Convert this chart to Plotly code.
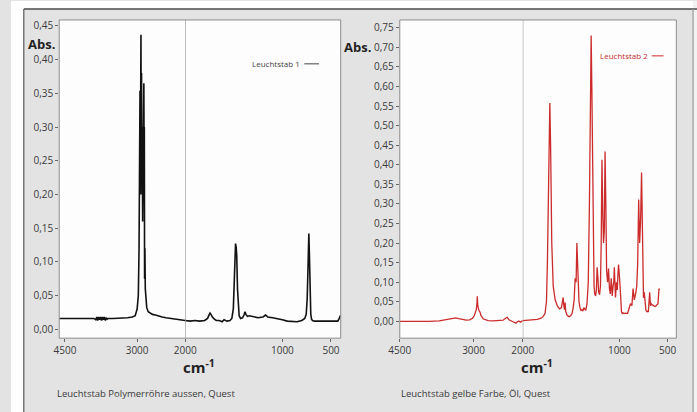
import plotly.graph_objects as go

# ---------------- data ----------------
# Spectrum 1: Leuchtstab Polymerröhre aussen (black)
wn1 = [4620, 4500, 4400, 4300, 4200, 4100, 4000, 3900, 3860, 3840, 3820, 3800, 3780, 3760, 3740,
       3720, 3700, 3680, 3660, 3640, 3620, 3600, 3500, 3400, 3300, 3200, 3100, 3040, 3000, 2975,
       2960, 2950, 2940, 2935, 2928, 2920, 2914, 2908, 2900, 2892, 2885, 2878, 2872, 2866, 2860,
       2855, 2850, 2845, 2838, 2830, 2815, 2800, 2770, 2730, 2680, 2620, 2550, 2480, 2400, 2300,
       2200, 2100, 2000,
       1950, 1900, 1850, 1800, 1770, 1755, 1745, 1735, 1720, 1700, 1680, 1650, 1620, 1600, 1570,
       1540, 1520, 1505, 1495, 1488, 1482, 1476, 1470, 1462, 1455, 1445, 1430, 1410, 1395, 1385,
       1375, 1360, 1340, 1300, 1250, 1200, 1175, 1165, 1150, 1100, 1050, 1000, 950, 900, 850,
       800, 770, 755, 745, 735, 728, 722, 716, 708, 700, 690, 670, 640, 600, 550, 500, 460,
       430, 415, 400]
ab1 = [0.016, 0.016, 0.017, 0.017, 0.016, 0.016, 0.017, 0.016, 0.014, 0.018, 0.013, 0.018, 0.014, 0.018, 0.013,
       0.018, 0.014, 0.018, 0.013, 0.017, 0.015, 0.016, 0.016, 0.016, 0.016, 0.017, 0.018, 0.020, 0.030, 0.050,
       0.120, 0.200, 0.354, 0.200, 0.300, 0.437, 0.250, 0.380, 0.200, 0.300, 0.160, 0.250, 0.180, 0.300, 0.365,
       0.250, 0.300, 0.075, 0.120, 0.060, 0.040, 0.032, 0.026, 0.024, 0.022, 0.021, 0.019, 0.018, 0.017, 0.016,
       0.015, 0.014, 0.013,
       0.012, 0.013, 0.012, 0.013, 0.016, 0.021, 0.024, 0.022, 0.018, 0.015, 0.013, 0.013, 0.011, 0.014, 0.012,
       0.013, 0.016, 0.030, 0.070, 0.110, 0.127, 0.122, 0.110, 0.060, 0.030, 0.020, 0.016, 0.017, 0.021, 0.026,
       0.022, 0.019, 0.020, 0.019, 0.017, 0.018, 0.021, 0.020, 0.018, 0.017, 0.016, 0.014, 0.012, 0.012, 0.011,
       0.013, 0.016, 0.022, 0.045, 0.100, 0.142, 0.110, 0.050, 0.022, 0.015, 0.013, 0.012, 0.012, 0.012, 0.011, 0.012, 0.011,
       0.012, 0.016, 0.021]

# Spectrum 2: Leuchtstab gelbe Farbe, Öl (red)
wn2 = [4500, 4300, 4100, 3900, 3700, 3600, 3500, 3420, 3360, 3300, 3220, 3150, 3080, 3020, 2985,
       2960, 2945, 2932, 2925, 2915, 2905, 2890, 2870, 2850, 2800, 2700, 2600, 2500, 2400, 2350,
       2320, 2280, 2220, 2170, 2140, 2110, 2080, 2050, 2000,
       1950, 1900, 1850, 1810, 1790, 1770, 1755, 1745, 1735, 1728, 1720, 1712, 1700, 1685, 1665,
       1640, 1620, 1600, 1590, 1582, 1575, 1568, 1562, 1555, 1540, 1520, 1505, 1490, 1478, 1468,
       1458, 1448, 1440, 1430, 1418, 1408, 1398, 1388, 1378, 1368, 1358, 1348, 1335, 1322, 1310,
       1300, 1292, 1285, 1277, 1270, 1262, 1255, 1246, 1238, 1230, 1222, 1215, 1205, 1196, 1188,
       1180, 1172, 1164, 1156, 1148, 1140, 1132, 1122, 1112, 1103, 1094, 1084, 1074, 1065, 1058,
       1052, 1046, 1040, 1030, 1021, 1015, 1008, 995, 985, 978, 970, 962, 950, 935, 915,
       900, 885, 870, 858, 845, 835, 828, 820, 810, 800, 790, 780, 770, 762, 756,
       750, 742, 734, 725, 716, 708, 700, 693, 686, 678, 670, 660, 650, 640, 630,
       620, 610, 600, 590, 580, 570, 563, 555, 545, 535, 520, 500, 485, 470, 455,
       440, 430, 420, 410]
ab2 = [0.000, 0.000, -0.001, 0.000, 0.001, 0.003, 0.006, 0.008, 0.009, 0.007, 0.004, 0.003, 0.004, 0.008, 0.015,
       0.022, 0.030, 0.045, 0.064, 0.040, 0.028, 0.027, 0.024, 0.015, 0.006, 0.002, 0.001, 0.002, 0.003, 0.008,
       0.010, 0.004, 0.000, -0.003, -0.005, -0.001, 0.001, -0.002, 0.002,
       0.003, 0.004, 0.005, 0.008, 0.012, 0.020, 0.050, 0.150, 0.350, 0.520, 0.558, 0.450, 0.200, 0.090, 0.055,
       0.038, 0.032, 0.035, 0.045, 0.061, 0.040, 0.030, 0.048, 0.025, 0.015, 0.012, 0.014, 0.020, 0.035, 0.055,
       0.110, 0.100, 0.200, 0.120, 0.050, 0.035, 0.028, 0.030, 0.026, 0.035, 0.030, 0.028, 0.045, 0.100, 0.300,
       0.580, 0.730, 0.600, 0.350, 0.150, 0.090, 0.070, 0.065, 0.080, 0.138, 0.110, 0.075, 0.068, 0.090, 0.200,
       0.413, 0.280, 0.200, 0.230, 0.434, 0.300, 0.130, 0.100, 0.135, 0.085, 0.070, 0.110, 0.065, 0.090, 0.100,
       0.138, 0.100, 0.061, 0.100, 0.080, 0.120, 0.145, 0.100, 0.045, 0.025, 0.020, 0.022, 0.020, 0.021, 0.020,
       0.030, 0.045, 0.040, 0.084, 0.055, 0.065, 0.075, 0.090, 0.150, 0.311, 0.200, 0.260, 0.380, 0.250, 0.090,
       0.060, 0.074, 0.045, 0.028, 0.025, 0.026, 0.024, 0.050, 0.074, 0.040, 0.045, 0.042, 0.040, 0.040, 0.038,
       0.040, 0.042, 0.045, 0.082, 0.082]

y1_ticks = [0.00, 0.05, 0.10, 0.15, 0.20, 0.25, 0.30, 0.35, 0.40, 0.45]
y2_ticks = [0.00, 0.05, 0.10, 0.15, 0.20, 0.25, 0.30, 0.35, 0.40, 0.45, 0.50, 0.55, 0.60, 0.65, 0.70, 0.75]
x_left_ticks = [4500, 3000]
x_right_ticks = [2000, 1000, 500]
split_wn = 2000

legend1 = "Leuchtstab 1"
legend2 = "Leuchtstab 2"
caption1 = "Leuchtstab Polymerröhre aussen, Quest"
caption2 = "Leuchtstab gelbe Farbe, Öl, Quest"

# ---------------- helpers ----------------
W, H = 697, 412


def px(x):
    return x / W


def py(y):
    return 1 - y / H


def split(wn, ab):
    a = [(w, v) for w, v in zip(wn, ab) if w >= split_wn]
    b = [(w, v) for w, v in zip(wn, ab) if w <= split_wn]
    return a, b


FONT = "Open Sans"
TXT = "#3a3a3a"
BLACK = "#111111"
RED = "#cc2b2b"

fig = go.Figure()

s1a, s1b = split(wn1, ab1)
s2a, s2b = split(wn2, ab2)

for pts, xa, ya, col, w in [(s1a, "x", "y", BLACK, 1.6), (s1b, "x2", "y", BLACK, 1.6),
                             (s2a, "x3", "y2", RED, 1.3), (s2b, "x4", "y2", RED, 1.3)]:
    fig.add_trace(go.Scatter(x=[p[0] for p in pts], y=[p[1] for p in pts], mode="lines",
                             line=dict(color=col, width=w), xaxis=xa, yaxis=ya,
                             showlegend=False, hoverinfo="skip"))

axis_common = dict(showgrid=False, zeroline=False, showline=False, ticks="outside", ticklen=3,
                   tickcolor="#666666", tickwidth=1,
                   tickfont=dict(family=FONT, size=10, color=TXT), fixedrange=True)

ytop, ybot = 19, 338
fig.update_layout(
    width=W, height=H, margin=dict(l=0, r=0, t=0, b=0),
    paper_bgcolor="#e3e3e3", plot_bgcolor="#fdfdfd", separators=", ",
    xaxis=dict(domain=[px(49), px(177)], range=[4620, split_wn], tickvals=x_left_ticks,
               anchor="y", **axis_common),
    xaxis2=dict(domain=[px(177), px(335)], range=[split_wn, 400], tickvals=x_right_ticks,
                anchor="y", **axis_common),
    yaxis=dict(domain=[py(ybot), py(ytop)], range=[-0.0133, 0.4589], tickvals=y1_ticks,
               tickformat=".2f", anchor="x", **axis_common),
    xaxis3=dict(domain=[px(395), px(520)], range=[4500, split_wn], tickvals=x_left_ticks,
                anchor="y2", **axis_common),
    xaxis4=dict(domain=[px(520), px(676)], range=[split_wn, 410], tickvals=x_right_ticks,
                anchor="y2", **axis_common),
    yaxis2=dict(domain=[py(ybot), py(ytop)], range=[-0.043, 0.770], tickvals=y2_ticks,
                tickformat=".2f", anchor="x3", **axis_common),
)

shapes = [
    # white surroundings of the grey card
    dict(type="rect", xref="paper", yref="paper", x0=0, x1=1, y0=py(8), y1=1,
         fillcolor="white", line=dict(width=0), layer="below"),
    dict(type="rect", xref="paper", yref="paper", x0=0, x1=px(13), y0=0, y1=1,
         fillcolor="white", line=dict(width=0), layer="below"),
    dict(type="rect", xref="paper", yref="paper", x0=px(693), x1=1, y0=0, y1=1,
         fillcolor="#f2f2f2", line=dict(width=0), layer="below"),
    dict(type="line", xref="paper", yref="paper", x0=px(13), x1=1, y0=py(8), y1=py(8),
         line=dict(color="#4a4a4a", width=1.5), layer="above"),
    dict(type="line", xref="paper", yref="paper", x0=px(13), x1=px(13), y0=py(8), y1=0,
         line=dict(color="#5a5a5a", width=1.2), layer="above"),
    dict(type="line", xref="paper", yref="paper", x0=px(693), x1=px(693), y0=py(8), y1=0,
         line=dict(color="#9a9a9a", width=1.2), layer="above"),
    # plot frames
    dict(type="rect", xref="paper", yref="paper", x0=px(49), x1=px(335), y0=py(ybot), y1=py(ytop),
         line=dict(color="#8c8c8c", width=1), layer="above"),
    dict(type="rect", xref="paper", yref="paper", x0=px(395), x1=px(676), y0=py(ybot), y1=py(ytop),
         line=dict(color="#8c8c8c", width=1), layer="above"),
    # split lines at 2000
    dict(type="line", xref="x2", yref="paper", x0=split_wn, x1=split_wn, y0=py(ybot), y1=py(ytop),
         line=dict(color="#8c8c8c", width=1), layer="above"),
    dict(type="line", xref="x4", yref="paper", x0=split_wn, x1=split_wn, y0=py(ybot), y1=py(ytop),
         line=dict(color="#8c8c8c", width=1), layer="above"),
    # legend sample lines
    dict(type="line", xref="paper", yref="paper", x0=px(298), x1=px(313), y0=py(63), y1=py(63),
         line=dict(color="#444444", width=1), layer="above"),
    dict(type="line", xref="paper", yref="paper", x0=px(651), x1=px(663), y0=py(55), y1=py(55),
         line=dict(color=RED, width=1), layer="above"),
]
fig.update_layout(shapes=shapes)


def ann(text, x, y, size, color=TXT, xanchor="left", bold=False):
    return dict(text=f"<b>{text}</b>" if bold else text, xref="paper", yref="paper",
                x=px(x), y=py(y), xanchor=xanchor, yanchor="middle", showarrow=False,
                font=dict(family=FONT, size=size, color=color))


fig.update_layout(annotations=[
    ann("Abs.", 15, 43, 13, color="#222222", bold=True),
    ann("Abs.", 336, 46, 13, color="#222222", bold=True),
    ann("cm<sup>-1</sup>", 191, 366, 15, color="#222222", xanchor="center", bold=True),
    ann("cm<sup>-1</sup>", 534, 366, 15, color="#222222", xanchor="center", bold=True),
    ann(caption1, 45, 393, 9.5),
    ann(caption2, 394, 393, 9.5),
    ann(legend1, 296, 63, 8, color="#444444", xanchor="right"),
    ann(legend2, 649, 55, 8, color=RED, xanchor="right"),
])

fig.write_html("out.html", config={"displayModeBar": False},
               post_script="document.body.style.margin='0';document.body.style.overflow='hidden';")
